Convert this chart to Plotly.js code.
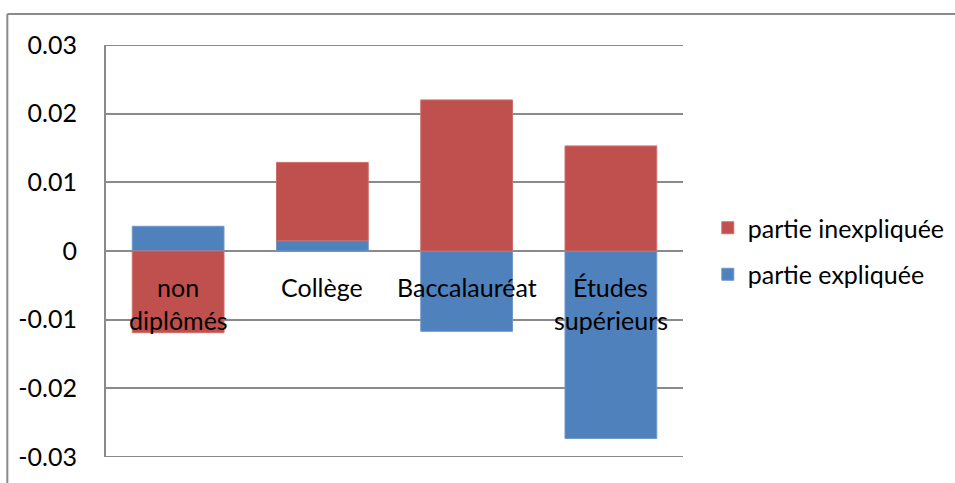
<!DOCTYPE html>
<html>
<head>
<meta charset="utf-8">
<script src="https://cdn.plot.ly/plotly-3.0.1.min.js"></script>
<style>
  html, body { margin: 0; padding: 0; background: #fff; }
  #chart { width: 955px; height: 483px; }
</style>
</head>
<body>
<div id="chart"></div>
<script>
// Décomposition de l'écart par niveau de diplôme
const categories = ["non diplômés", "Collège", "Baccalauréat", "Études supérieurs"];
const categoryLines = [["non", "diplômés"], ["Collège"], ["Baccalauréat"], ["Études", "supérieurs"]];
const partieExpliquee = [0.0036, 0.0015, -0.0117, -0.0273];
const partieInexpliquee = [-0.0119, 0.0114, 0.0220, 0.0153];
const yTickValues = [0.03, 0.02, 0.01, 0, -0.01, -0.02, -0.03];
const yTickLabels = ["0.03", "0.02", "0.01", "0", "-0.01", "-0.02", "-0.03"];

const FONT = "Lato, 'Open Sans', sans-serif";
const FSIZE = 25;
const GRID = "#8a8a8a";

const traces = [
  {
    type: "bar",
    name: "partie expliquée",
    x: categories,
    y: partieExpliquee,
    marker: { color: "#4F81BD", line: { color: "#6f97c8", width: 1 } },
    legendgroup: "a",
    legendrank: 2,
    hoverinfo: "skip"
  },
  {
    type: "bar",
    name: "partie inexpliquée",
    x: categories,
    y: partieInexpliquee,
    marker: { color: "#C0504D", line: { color: "#cb6f6c", width: 1 } },
    legendgroup: "b",
    legendrank: 1,
    hoverinfo: "skip"
  }
];

// Category names sit just under the zero line, over the bars
const annotations = [];
categoryLines.forEach((lines, i) => {
  lines.forEach((line, j) => {
    annotations.push({
      x: categories[i], y: 0, xref: "x", yref: "y",
      text: line, showarrow: false,
      xanchor: "center", yanchor: "middle",
      yshift: -(36 + 33 * j),
      font: { family: FONT, size: FSIZE, color: "#000" }
    });
  });
});

// Gridlines at both ends of the value range
const edgeLines = [yTickValues[0], yTickValues[yTickValues.length - 1]].map(v => ({
  type: "line", xref: "paper", yref: "y",
  x0: 0, x1: 1, y0: v, y1: v,
  line: { color: GRID, width: 2 }
}));

const layout = {
  width: 955, height: 483,
  margin: { l: 106, r: 272, t: 45, b: 26, autoexpand: false },
  paper_bgcolor: "#fff", plot_bgcolor: "#fff",
  barmode: "relative",
  bargap: 0.364,
  showlegend: true,
  legend: {
    x: 1.043, y: 0.5, xanchor: "left", yanchor: "middle",
    traceorder: "grouped",
    tracegroupgap: 11,
    font: { family: FONT, size: FSIZE, color: "#000" },
    bgcolor: "rgba(0,0,0,0)"
  },
  xaxis: {
    showticklabels: false, ticks: "", showgrid: false,
    showline: false, zeroline: false, fixedrange: true
  },
  yaxis: {
    range: [-0.03, 0.03],
    tickvals: yTickValues, ticktext: yTickLabels,
    tickfont: { family: FONT, size: FSIZE, color: "#000" },
    ticks: "", ticklabelstandoff: 22,
    showgrid: true, gridcolor: GRID, gridwidth: 2,
    zeroline: true, zerolinecolor: GRID, zerolinewidth: 2,
    showline: true, linecolor: GRID, linewidth: 2,
    fixedrange: true
  },
  annotations: annotations,
  shapes: edgeLines.concat([
    // outer chart frame (left and top edges)
    { type: "line", xref: "paper", yref: "paper",
      x0: -0.171, x1: -0.171, y0: 1.0752, y1: -0.07,
      line: { color: GRID, width: 2 } },
    { type: "line", xref: "paper", yref: "paper",
      x0: -0.171, x1: 1.5, y0: 1.0752, y1: 1.0752,
      line: { color: GRID, width: 2 } }
  ])
};

Plotly.newPlot("chart", traces, layout, { displayModeBar: false, staticPlot: true });
</script>
</body>
</html>
